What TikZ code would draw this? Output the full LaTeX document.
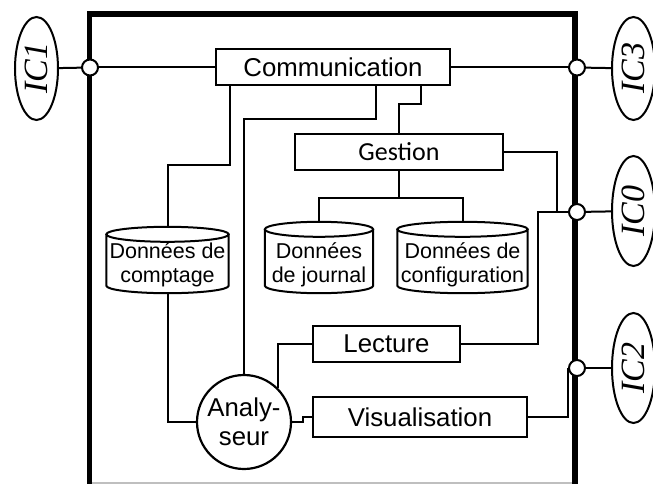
\documentclass[tikz,border=0pt]{standalone}
\usepackage{graphicx}
\usepackage{fontspec}
\setmainfont{Liberation Sans}
\newfontfamily\gestfont{Carlito}
\newfontfamily\icfont{Liberation Serif}
\usetikzlibrary{shapes.geometric,calc}

% cylinder outline drawn around a (named) data-store node
\newcommand\dbshape[1]{%
  \path[dbline] let \p1=(#1.north west), \p2=(#1.south east), \n1={(\x2-\x1)/2} in
    ({\x1},{\y1-7.5pt}) -- ({\x1},{\y2+7.5pt})
      arc[start angle=180,end angle=360,x radius=\n1,y radius=7.5pt]
      -- ({\x2},{\y1-7.5pt})
    ({\x1+\n1},{\y1-7.5pt}) ellipse[x radius=\n1,y radius=7.5pt];}

\begin{document}
\begin{tikzpicture}[x=1pt,y=-1pt,
  wire/.style={line width=2pt},
  unit/.style={draw, line width=2.2pt, fill=white, rectangle, inner sep=0pt,
    font=\fontsize{25.8}{28}\selectfont},
  proc/.style={draw, line width=2.2pt, fill=white, circle, inner sep=0pt,
    minimum size=94pt, align=center, font=\fontsize{25.8}{28.5}\selectfont},
  dbstore/.style={inner sep=0pt, rectangle},
  dbline/.style={draw, line width=2pt, fill=white},
  dbtext/.style={align=center, inner sep=0pt, font=\fontsize{21.5}{24}\selectfont},
  port/.style={circle, draw, line width=2pt, fill=white, minimum size=16pt, inner sep=0pt},
  iface/.style={ellipse, draw, line width=2pt, fill=white, inner sep=0pt,
    minimum width=43pt, font=\icfont\itshape\fontsize{34}{38}\selectfont},
  frame/.style={line width=5.5pt}]

\useasboundingbox (0,0) rectangle (653,484);

% system boundary
\draw[frame] (89.5,492) -- (89.5,14) -- (575,14) -- (575,492);
\draw[line width=1.5pt, black!25] (92,483) -- (572,483);

% functional units
\node[unit, minimum width=234pt, minimum height=36pt] (comm) at (333,67) {Communication};
\node[unit, minimum width=208pt, minimum height=36pt, font=\gestfont\fontsize{26}{28}\selectfont] (gest) at (399,152) {Gestion};
\node[unit, minimum width=147pt, minimum height=36pt] (lect) at (386.5,344) {Lecture};
\node[unit, minimum width=214pt, minimum height=40pt] (visu) at (420,417) {Visualisation};
\node[proc] (anal) at (244,422) {Analy-\\seur};

% data stores
\node[dbstore, minimum width=122pt, minimum height=66pt] (cpt) at (167.5,260) {};
\node[dbstore, minimum width=108pt, minimum height=71pt] (jrn) at (319,257.5) {};
\node[dbstore, minimum width=130pt, minimum height=71pt] (cfg) at (462.5,257.5) {};
\dbshape{cpt}
\dbshape{jrn}
\dbshape{cfg}
\node[dbtext] (cpttxt) at ([yshift=28.6pt]cpt.south) {Données de\\comptage};
\node[dbtext] (jrntxt) at ([yshift=28.6pt]jrn.south) {Données\\de journal};
\node[dbtext] (cfgtxt) at ([yshift=28.6pt]cfg.south) {Données de\\configuration};

% ports on the boundary
\node[port] (j1) at (90,67.5) {};
\node[port] (j3) at (577,67.5) {};
\node[port] (j0) at (577,212) {};
\node[port] (j2) at (577,368) {};

% external interfaces
\node[iface, minimum height=103pt] (ic1) at (36.5,68.5) {\rotatebox{90}{IC1}};
\node[iface, minimum height=103pt] (ic3) at (633.5,68.5) {\rotatebox{90}{IC3}};
\node[iface, minimum height=110pt] (ic0) at (633.5,211) {\rotatebox{90}{IC0}};
\node[iface, minimum height=110pt] (ic2) at (633.5,368) {\rotatebox{90}{IC2}};

% links
\draw[wire] (ic1) -- (j1);
\draw[wire] (j1) -- (j1 -| comm.west);
\draw[wire] (comm.east |- j3) -- (j3);
\draw[wire] (j3) -- (ic3);
\draw[wire] (j0) -- (ic0);
\draw[wire] (j2) -- (ic2);

\draw[wire] ([xshift=15pt]comm.south west) -- ++(0,79) -| (cpt.north);
\draw[wire] ([xshift=160.7pt]comm.south west) -- ++(0,33) -| (anal.north);
\draw[wire] ([xshift=205.7pt]comm.south west) -- ++(0,18) -| (gest.north);

\draw[wire] (gest.south) -- ++(0,27) -| (jrn.north);
\draw[wire] (gest.south) -- ++(0,27) -| (cfg.north);
\draw[wire] (gest.east) -| ([xshift=-11pt]j0.west);
\draw[wire] (lect.east) -- ++(77,0) |- (j0.west);

\draw[wire] (cpt.south) |- (anal.west);
\draw[wire] (lect.west) -| (anal.north east);
\draw[wire] (anal.east) -- ++(11,0) |- (visu.west);
\draw[wire] (visu.east) -| (j2.west);
\end{tikzpicture}
\end{document}
